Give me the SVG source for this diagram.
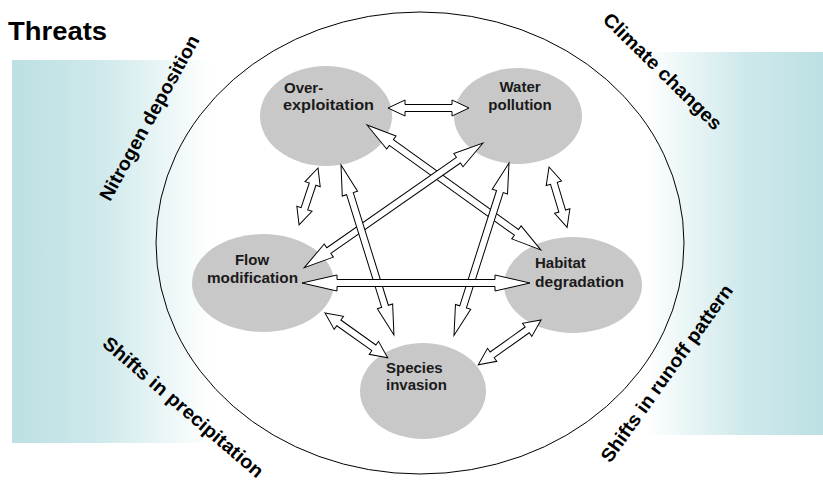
<svg xmlns="http://www.w3.org/2000/svg" width="823" height="480" viewBox="0 0 823 480">
<defs>
<linearGradient id="gl" x1="0" y1="0" x2="1" y2="0">
<stop offset="0" stop-color="#bce0e3"/>
<stop offset="0.45" stop-color="#cfe9eb"/>
<stop offset="1" stop-color="#ffffff"/>
</linearGradient>
<linearGradient id="gr" x1="0" y1="0" x2="1" y2="0">
<stop offset="0" stop-color="#ffffff"/>
<stop offset="0.55" stop-color="#cfe9eb"/>
<stop offset="1" stop-color="#bce0e3"/>
</linearGradient>
<style>
.node{fill:#c8c8c8;}
.nt{font-family:"Liberation Sans",Arial,sans-serif;font-weight:bold;font-size:15px;fill:#1a1a1a;}
.lab{font-family:"Liberation Sans",Arial,sans-serif;font-weight:bold;font-size:19px;fill:#000;text-anchor:middle;}
.arr{fill:#ffffff;stroke:#000;stroke-width:1;stroke-linejoin:miter;}
</style>
</defs>
<rect x="12" y="60" width="200" height="383" fill="url(#gl)"/>
<rect x="645" y="52" width="178" height="383" fill="url(#gr)"/>
<ellipse cx="420" cy="243" rx="264" ry="231" fill="none" stroke="#000" stroke-width="1"/>
<text x="8" y="40" font-family="'Liberation Sans',Arial,sans-serif" font-weight="bold" font-size="25" textLength="99" lengthAdjust="spacingAndGlyphs">Threats</text>
<text class="lab" transform="translate(155,121) rotate(-61)" textLength="186" lengthAdjust="spacingAndGlyphs">Nitrogen deposition</text>
<text class="lab" transform="translate(658,76) rotate(44.5)" textLength="158" lengthAdjust="spacingAndGlyphs">Climate changes</text>
<text class="lab" transform="translate(179,412) rotate(40.7)" textLength="205" lengthAdjust="spacingAndGlyphs">Shifts in precipitation</text>
<text class="lab" transform="translate(672,377) rotate(-54.5)" textLength="213" lengthAdjust="spacingAndGlyphs">Shifts in runoff pattern</text>
<g id="node-overexploitation">
<ellipse class="node" cx="326" cy="116" rx="66" ry="50"/>
<text class="nt" x="284" y="93">Over-</text>
<text class="nt" x="283" y="110" textLength="91" lengthAdjust="spacingAndGlyphs">exploitation</text>
</g>
<g id="node-water-pollution">
<ellipse class="node" cx="518" cy="116" rx="64" ry="48"/>
<text class="nt" x="520" y="92" text-anchor="middle">Water</text>
<text class="nt" x="520" y="110" text-anchor="middle">pollution</text>
</g>
<g id="node-flow-modification">
<ellipse class="node" cx="263" cy="283" rx="71" ry="49"/>
<text class="nt" x="252" y="265" text-anchor="middle">Flow</text>
<text class="nt" x="207" y="283" textLength="91" lengthAdjust="spacingAndGlyphs">modification</text>
</g>
<g id="node-habitat-degradation">
<ellipse class="node" cx="573" cy="285" rx="69" ry="48"/>
<text class="nt" x="535" y="268">Habitat</text>
<text class="nt" x="535" y="287" textLength="89" lengthAdjust="spacingAndGlyphs">degradation</text>
</g>
<g id="node-species-invasion">
<ellipse class="node" cx="423" cy="391" rx="63" ry="48"/>
<text class="nt" x="386" y="373">Species</text>
<text class="nt" x="386" y="390">invasion</text>
</g>
<g id="connectors">
<path class="arr" transform="translate(388,108)" d="M0,0 L17,-8 L17,-3.5 L64,-3.5 L64,-8 L81,0 L64,8 L64,3.5 L17,3.5 L17,8 Z"/>
<path class="arr" transform="translate(367,125) rotate(35.7)" d="M0,0 L30,-8 L30,-3.5 L184,-3.5 L184,-8 L214,0 L184,8 L184,3.5 L30,3.5 L30,8 Z"/>
<path class="arr" transform="translate(483,143) rotate(145.1)" d="M0,0 L30,-8 L30,-3.5 L188,-3.5 L188,-8 L218,0 L188,8 L188,3.5 L30,3.5 L30,8 Z"/>
<path class="arr" transform="translate(318,168) rotate(108.4)" d="M0,0 L17,-8 L17,-3.5 L43,-3.5 L43,-8 L60,0 L43,8 L43,3.5 L17,3.5 L17,8 Z"/>
<path class="arr" transform="translate(341,165) rotate(72.7)" d="M0,0 L30,-8 L30,-3.5 L148,-3.5 L148,-8 L178,0 L148,8 L148,3.5 L30,3.5 L30,8 Z"/>
<path class="arr" transform="translate(509,163) rotate(107.7)" d="M0,0 L30,-8 L30,-3.5 L151,-3.5 L151,-8 L181,0 L151,8 L151,3.5 L30,3.5 L30,8 Z"/>
<path class="arr" transform="translate(549,167) rotate(73.3)" d="M0,0 L17,-8 L17,-3.5 L46,-3.5 L46,-8 L63,0 L46,8 L46,3.5 L17,3.5 L17,8 Z"/>
<path class="arr" transform="translate(302,283)" d="M0,0 L35,-8 L35,-3.5 L193,-3.5 L193,-8 L228,0 L193,8 L193,3.5 L35,3.5 L35,8 Z"/>
<path class="arr" transform="translate(325,313) rotate(35.5)" d="M0,0 L17,-8 L17,-3.5 L60,-3.5 L60,-8 L77,0 L60,8 L60,3.5 L17,3.5 L17,8 Z"/>
<path class="arr" transform="translate(541,320) rotate(144.5)" d="M0,0 L17,-8 L17,-3.5 L60,-3.5 L60,-8 L77,0 L60,8 L60,3.5 L17,3.5 L17,8 Z"/>
</g>
</svg>
